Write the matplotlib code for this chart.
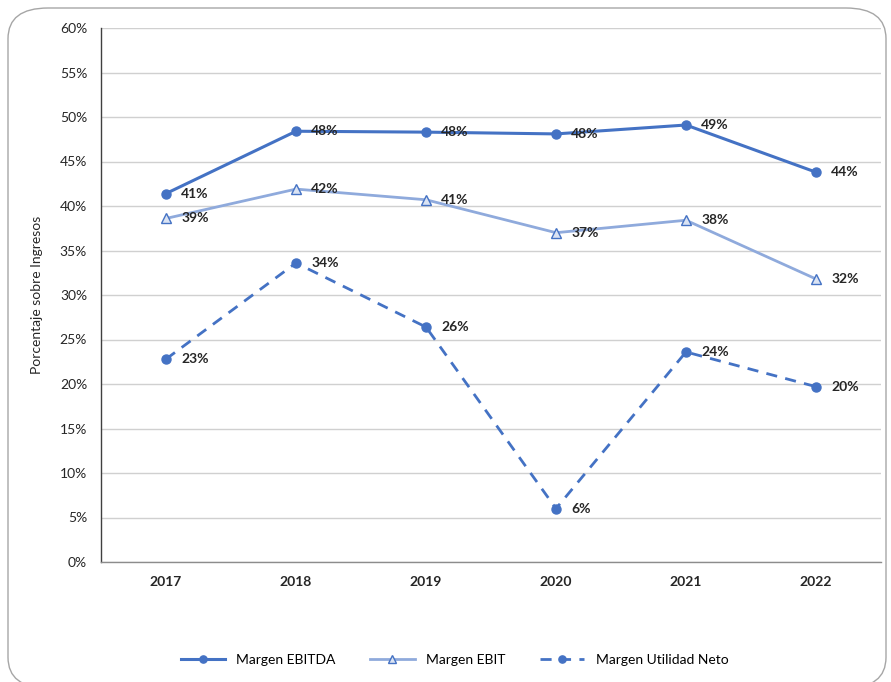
import matplotlib
matplotlib.use('Agg')
import numpy as np
from matplotlib import pyplot as plt
from matplotlib.patches import FancyBboxPatch

plt.rcParams['font.family'] = ['Lato', 'DejaVu Sans']

years = ['2017', '2018', '2019', '2020', '2021', '2022']
ebitda = [41.4, 48.4, 48.3, 48.1, 49.1, 43.8]
ebit = [38.6, 41.9, 40.7, 37.0, 38.4, 31.8]
neto = [22.8, 33.6, 26.4, 6.0, 23.6, 19.7]
yticks = [0, 5, 10, 15, 20, 25, 30, 35, 40, 45, 50, 55, 60]

blue = '#4472C4'
light = '#8FAADC'

fig = plt.figure(figsize=(8.91, 6.82), dpi=100)
ax = fig.add_axes([101/891, 1 - 562/682, 780/891, 534/682])

# rounded outer frame
frame = FancyBboxPatch((8/891, -6/682), 878/891, 680/682,
                       boxstyle='round,pad=0,rounding_size=0.045',
                       transform=fig.transFigure, fc='white', ec='#A6A6A6',
                       lw=1.0, zorder=-10)
fig.patches.append(frame)

x = np.arange(len(years))
ax.plot(x, ebitda, color=blue, lw=2.2, marker='o', ms=6.5, label='Margen EBITDA')
ax.plot(x, ebit, color=light, lw=2.0, marker='^', ms=7, mfc='#DAE3F3',
        mec=blue, mew=1.0, label='Margen EBIT')
ax.plot(x, neto, color=blue, lw=2.0, ls=(0, (4, 3)), marker='o', ms=6.5,
        label='Margen Utilidad Neto')

for series in (ebitda, ebit, neto):
    for xi, v in zip(x, series):
        ax.annotate(f'{v:.0f}%', (xi, v), xytext=(11, 0), textcoords='offset points',
                    va='center', ha='left', fontsize=10, fontweight='bold', color='#262626')

ax.set_xlim(-0.5, len(years) - 0.5)
ax.set_ylim(0, 60)
ax.set_xticks(x)
ax.set_xticklabels(years, fontsize=10, fontweight='bold', color='#262626')
ax.set_yticks(yticks)
ax.set_yticklabels([f'{t}%' for t in yticks], fontsize=10, color='#262626')
ax.tick_params(axis='both', length=0, pad=10)
ax.grid(axis='y', color='#D0D0D0', lw=1.0)
ax.set_axisbelow(True)
for s in ('top', 'right'):
    ax.spines[s].set_visible(False)
ax.spines['left'].set_color('#404040')
ax.spines['left'].set_linewidth(1.0)
ax.spines['bottom'].set_color('#8C8C8C')
ax.spines['bottom'].set_linewidth(1.0)
ax.set_ylabel('Porcentaje sobre Ingresos', fontsize=10, color='#262626', labelpad=12)

fig.legend(loc='center', bbox_to_anchor=(0.51, 1 - 660/682), ncol=3, frameon=False,
           fontsize=10, handlelength=3.2, columnspacing=2.5, markerscale=0.8)

fig.savefig('out.png', dpi=100)
